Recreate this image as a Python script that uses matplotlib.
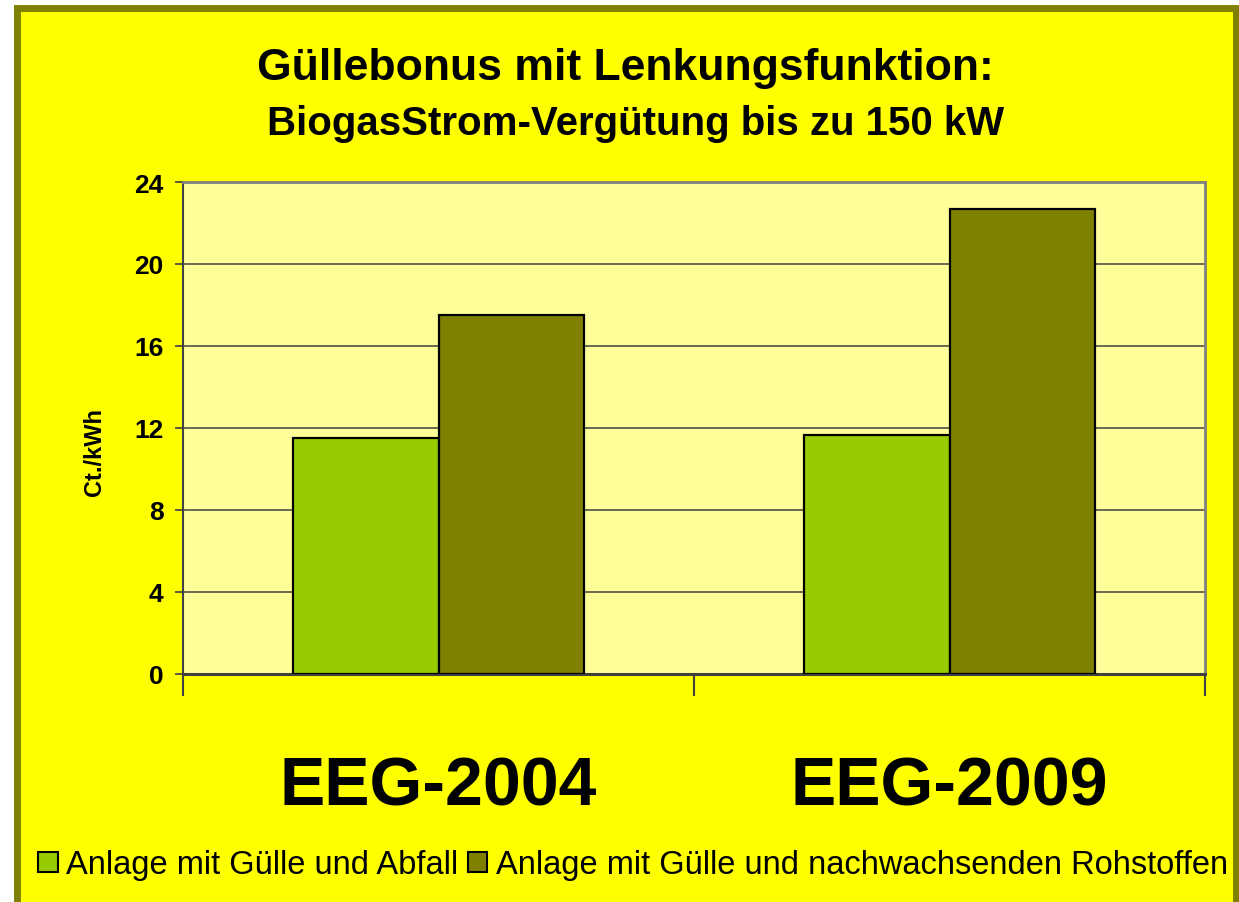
import numpy as np
import matplotlib
matplotlib.use('Agg')
import matplotlib.pyplot as plt
from matplotlib.patches import Rectangle, Patch

plt.rcParams['font.family'] = ['Liberation Sans', 'DejaVu Sans']

categories = ['EEG-2004', 'EEG-2009']
series_names = ['Anlage mit Gülle und Abfall',
                'Anlage mit Gülle und nachwachsenden Rohstoffen']
abfall = [11.5, 11.67]
nawaro = [17.5, 22.67]
yticks = [0, 4, 8, 12, 16, 20, 24]

green = '#99CC00'
olive = '#808000'

W, H = 1239, 903
fig = plt.figure(figsize=(W / 100, H / 100), dpi=100, facecolor='white')

# yellow frame with olive border
frame = Rectangle((16.5 / W, -0.05), (1235.5 - 16.5) / W, 1.05 - 8.5 / H,
                  transform=fig.transFigure, facecolor='#FFFF00',
                  edgecolor=olive, linewidth=5, zorder=-5)
fig.patches.append(frame)

ax = fig.add_axes([183 / W, (H - 675) / H, (1205 - 183) / W, (675 - 183) / H])
ax.set_facecolor('#FFFF99')

x = np.arange(len(categories))
bw = 0.285
ax.bar(x - bw / 2, abfall, bw, color=green, edgecolor='black', linewidth=1.6,
       label=series_names[0], zorder=3)
ax.bar(x + bw / 2, nawaro, bw, color=olive, edgecolor='black', linewidth=1.6,
       label=series_names[1], zorder=3)

ax.set_xlim(-0.5, 1.5)
ax.set_ylim(0, 24)
ax.set_yticks(yticks)
ax.set_yticklabels([str(v) for v in yticks], fontsize=19, fontweight='bold')
ax.tick_params(axis='y', length=6, width=1.2, color='#404040', pad=8)
ax.yaxis.grid(True, color='#404040', linewidth=1.1)
ax.set_axisbelow(True)

ax.set_xticks(x)
ax.set_xticklabels(categories, fontsize=49, fontweight='bold')
ax.tick_params(axis='x', which='major', length=0, pad=58)
ax.set_xticks([-0.5, 0.5, 1.5], minor=True)
ax.tick_params(axis='x', which='minor', length=16, width=1.5, color='#404040')

for s in ['top', 'right']:
    ax.spines[s].set_color('#808080')
    ax.spines[s].set_linewidth(2)
ax.spines['left'].set_color('#404040')
ax.spines['left'].set_linewidth(1.5)
ax.spines['bottom'].set_color('#404040')
ax.spines['bottom'].set_linewidth(2.2)

fig.text(94 / W, 1 - 452 / H, 'Ct./kWh', rotation=90, fontsize=17,
         fontweight='bold', ha='center', va='center')

fig.text(625 / W, 1 - 80 / H, 'Güllebonus mit Lenkungsfunktion:', fontsize=32,
         fontweight='bold', ha='center', va='baseline')
fig.text(636 / W, 1 - 135 / H, 'BiogasStrom-Vergütung bis zu 150 kW',
         fontsize=29, fontweight='bold', ha='center', va='baseline')

handles = [Patch(facecolor=green, edgecolor='black', linewidth=1.5),
           Patch(facecolor=olive, edgecolor='black', linewidth=1.5)]
fig.legend(handles, series_names, loc='center', bbox_to_anchor=(633 / W, 1 - 866 / H),
           ncol=2, frameon=False, fontsize=23.5, handlelength=0.6, handleheight=0.6,
           handletextpad=0.25, columnspacing=0.3, borderpad=0, borderaxespad=0)

fig.savefig('out.png', dpi=100, facecolor='white')
